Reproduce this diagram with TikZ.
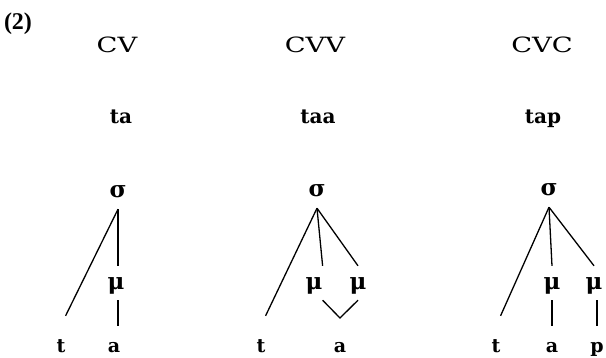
\documentclass[tikz,border=0pt]{standalone}
\usepackage{fontspec}
\setmainfont{DejaVu Serif}
\newfontfamily\numfont{Liberation Serif}
\begin{document}
\begin{tikzpicture}[x=1pt,y=-1pt,
  every node/.style={inner sep=0pt,anchor=base},
  head/.style={font=\fontsize{21}{21}\selectfont},
  form/.style={font=\bfseries\fontsize{20}{20}\selectfont},
  sig/.style={font=\bfseries\fontsize{23}{23}\selectfont,text depth=12pt},
  mora/.style={font=\bfseries\fontsize{23}{23}\selectfont,text height=23pt,text depth=11pt},
  segt/.style={font=\bfseries\fontsize{19}{19}\selectfont,text height=36pt},
  sega/.style={font=\bfseries\fontsize{19}{19}\selectfont,text height=26pt},
  link/.style={line width=1.3pt}]
\useasboundingbox (0,0) rectangle (606,357);

% example number
\node[font=\numfont\bfseries\fontsize{24}{24}\selectfont] (num) at (18,29) {(2)};

% syllable types and example forms
\node[head] (h1) at (117,52) {\scalebox{1.3}[1]{CV}};
\node[head] (h2) at (315,52) {\scalebox{1.3}[1]{CVV}};
\node[head] (h3) at (542,52) {\scalebox{1.3}[1]{CVC}};
\node[form] (f1) at (121,123) {ta};
\node[form] (f2) at (318,123) {taa};
\node[form] (f3) at (543,123) {tap};

% light syllable: ta
\node[sig]  (s1) at (118,197) {σ};
\node[mora] (m1) at (116,289) {μ};
\node[segt] (t1) at (61,352) {t};
\node[sega] (a1) at (114,352) {a};
\draw[link] (s1.south) -- (t1.north east);
\draw[link] (s1.south) -- (s1.south |- m1.north);
\draw[link] (m1.south -| s1.south) -- (s1.south |- a1.north);

% long vowel: taa
\node[sig]  (s2) at (317,196) {σ};
\node[mora] (m21) at (314,289) {μ};
\node[mora] (m22) at (358,289) {μ};
\node[segt] (t2) at (261,352) {t};
\node[sega] (a2) at (340,352) {a};
\coordinate (v2) at (340,318);
\draw[link] (s2.south) -- (t2.north east);
\draw[link] (s2.south) -- (m21.north east);
\draw[link] (s2.south) -- (m22.north);
\draw[link] (m21.south east) -- (v2) -- (m22.south);

% closed syllable: tap
\node[sig]  (s3) at (549,195) {σ};
\node[mora] (m31) at (552,289) {μ};
\node[mora] (m32) at (594,289) {μ};
\node[segt] (t3) at (496,352) {t};
\node[sega] (a3) at (552,352) {a};
\node[sega] (p3) at (597,352) {p};
\draw[link] (s3.south) -- (t3.north east);
\draw[link] (s3.south) -- (m31.north);
\draw[link] (s3.south) -- (m32.north);
\draw[link] (m31.south) -- (a3.north);
\draw[link] (m32.south -| p3.north) -- (p3.north);
\end{tikzpicture}
\end{document}
